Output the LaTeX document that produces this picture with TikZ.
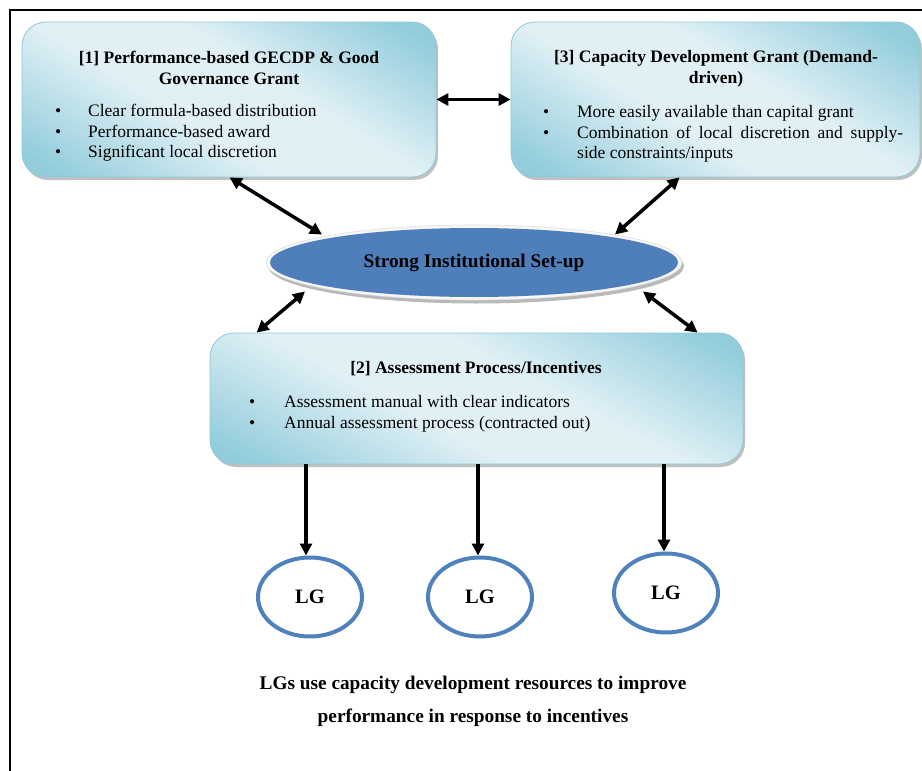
\documentclass[tikz,border=0pt]{standalone}
\usepackage{fontspec}
\setmainfont{Liberation Serif}
\usetikzlibrary{arrows.meta,shadows,calc,shapes.geometric}
\definecolor{bdark}{HTML}{93CDDC}
\definecolor{blight}{HTML}{E0F0F5}
\definecolor{bedge}{HTML}{8ECADA}
\definecolor{ellfill}{HTML}{4F7FBB}
\definecolor{lgblue}{HTML}{4F81BD}
\pgfdeclareverticalshading{boxsh}{100bp}{color(0bp)=(bdark); color(20bp)=(bdark); color(42bp)=(blight); color(58bp)=(blight); color(80bp)=(bdark); color(100bp)=(bdark)}
\begin{document}
\begin{tikzpicture}[x=1pt,y=-1pt,
  gbox/.style={draw=bedge, line width=0.8pt, rounded corners=24pt,
    shading=boxsh, shading angle=-32,
    drop shadow={shadow xshift=2pt, shadow yshift=-3pt, fill=gray!70, opacity=0.7}},
  ttl/.style={font=\bfseries\fontsize{17.5}{21}\selectfont, align=center},
  blist/.style={anchor=north west, inner sep=0pt, font=\fontsize{17.5}{20.5}\selectfont},
  dbl/.style={{Triangle[length=12pt,width=12pt]}-{Triangle[length=12pt,width=12pt]}, line width=3.5pt},
  sgl/.style={-{Triangle[length=12pt,width=12pt]}, line width=3.5pt},
  lg/.style={ellipse, draw=lgblue, line width=4pt, minimum width=104pt, minimum height=79pt,
    inner sep=0pt, font=\bfseries\fontsize{20.5}{24}\selectfont}
]
\useasboundingbox (0,0) rectangle (922,771);
\fill[white] (0,0) rectangle (922,771);
\draw[line width=1.2pt] (10,771) -- (10,10) -- (922,10);

% boxes
\node[gbox, minimum width=414pt, minimum height=155pt] (b1) at (229,99.5) {};
\node[gbox, minimum width=409pt, minimum height=155pt] (b3) at (715.5,99.5) {};
\node[gbox, shading angle=-28, minimum width=533pt, minimum height=131pt] (b2) at (476.5,398.5) {};

% ellipse with rim
\fill[gray!55] (476,266) ellipse [x radius=208pt, y radius=37.5pt];
\filldraw[fill=gray!6, draw=gray!25, line width=0.6pt] (474,262.5) ellipse [x radius=208pt, y radius=37.5pt];
\node[ellipse, fill=ellfill, minimum width=408pt, minimum height=69pt, inner sep=0pt,
  font=\bfseries\fontsize{19.3}{22}\selectfont] (se) at (474,262.5) {Strong Institutional Set-up};

% box 1 text
\node[ttl] (t1) at (229,68) {[1] Performance-based GECDP \& Good\\Governance Grant};
\node[blist] (l1) at (55,102) {%
  \begin{tabular}{@{}p{33pt}@{}l@{}}
  \textbullet & Clear formula-based distribution\\
  \textbullet & Performance-based award\\
  \textbullet & Significant local discretion
  \end{tabular}};

% box 3 text
\node[ttl] (t3) at (716,69) {[3] Capacity Development Grant (Demand-\\driven)};
\node[blist] (l3) at (543,103) {%
  \begin{tabular}{@{}p{34pt}@{}l@{}}
  \textbullet & More easily available than capital grant\\
  \textbullet & \makebox[326pt][s]{Combination of local discretion and supply-}\\
   & side constraints/inputs
  \end{tabular}};

% box 2 text
\node[ttl] (t2) at (476,369) {[2] Assessment Process/Incentives};
\node[blist] (l2) at (249,393) {%
  \begin{tabular}{@{}p{35pt}@{}l@{}}
  \textbullet & Assessment manual with clear indicators\\
  \textbullet & Annual assessment process (contracted out)
  \end{tabular}};

% LG nodes
\node[lg] (g1) at (310,597) {LG};
\node[lg] (g2) at (480,597) {LG};
\node[lg] (g3) at (666,593) {LG};

% caption
\node[font=\bfseries\fontsize{19.3}{33}\selectfont, align=center] (cap) at (473,701)
  {LGs use capacity development resources to improve\\performance in response to incentives};

% connectors
\draw[dbl] (b1.east) -- (b3.west);
\draw[dbl] ($(b1.south west)+(208,0)$) -- ($(se.center)+(-152,-28)$);
\draw[dbl] ($(b3.south west)+(169,0)$) -- ($(se.center)+(141,-28)$);
\draw[dbl] ($(se.center)+(-169,29)$) -- ($(b2.north west)+(47,0)$);
\draw[dbl] ($(se.center)+(169,29)$) -- ($(b2.north west)+(488,0)$);
\draw[sgl] (b2.south -| 306,0) -- (306,0 |- g1.north);
\draw[sgl] (b2.south -| 478,0) -- (478,0 |- g2.north);
\draw[sgl] (b2.south -| 664,0) -- (664,0 |- g3.north);
\end{tikzpicture}
\end{document}
